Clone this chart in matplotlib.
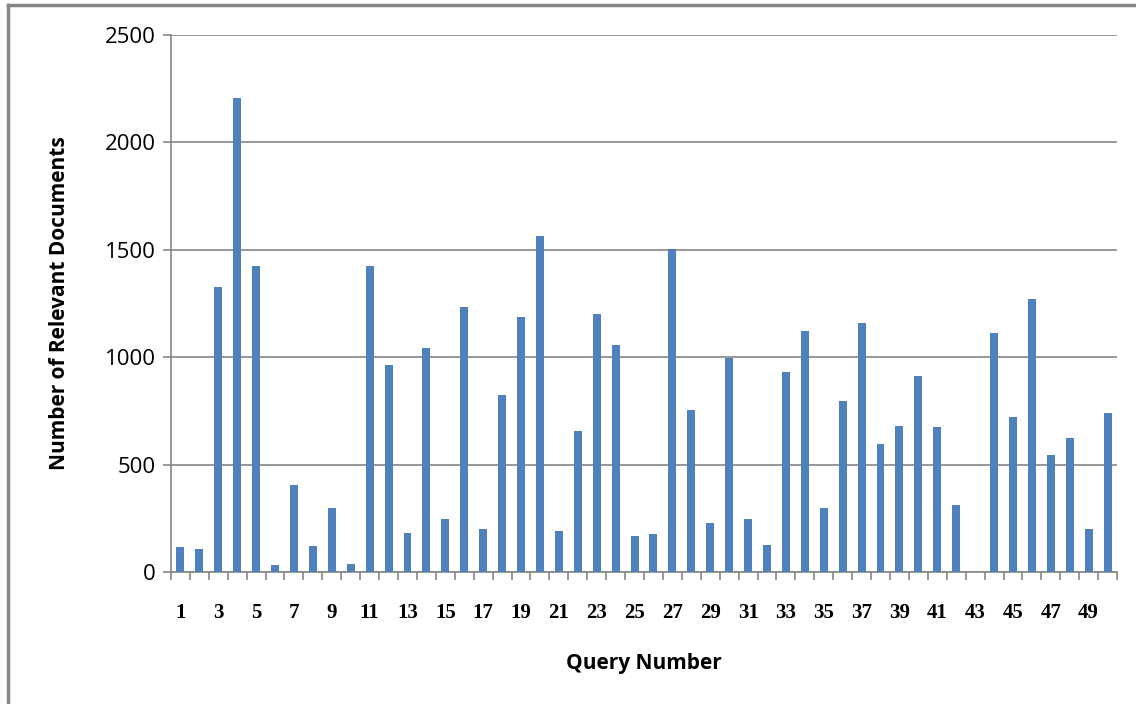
import matplotlib
matplotlib.use("Agg")
import matplotlib.pyplot as plt
from matplotlib.lines import Line2D
import numpy as np

# Relevant documents per query
queries = list(range(1, 51))
relevant_docs = [
    117, 106, 1325, 2208, 1423, 32, 404, 120, 297, 37,
    1423, 962, 181, 1041, 247, 1232, 199, 823, 1185, 1562,
    191, 656, 1203, 1055, 167, 176, 1506, 752, 228, 996,
    247, 125, 930, 1121, 297, 794, 1161, 595, 678, 911,
    674, 311, 0, 1111, 720, 1269, 544, 622, 199, 739,
]
y_ticks = [0, 500, 1000, 1500, 2000, 2500]

bar_color = "#4f81bd"
axis_gray = "#868686"

fig = plt.figure(figsize=(11.36, 7.04), dpi=100)
ax = fig.add_axes([0.1505, 0.1875, 0.8328, 0.7628])

ax.bar(queries, relevant_docs, width=0.42, color=bar_color, zorder=3)

ax.set_xlim(0.5, 50.5)
ax.set_ylim(0, 2500)

# y axis: gridlines at every 500
ax.set_yticks(y_ticks)
ax.yaxis.grid(True, color=axis_gray, linewidth=1.2, zorder=0)
ax.tick_params(axis="y", direction="out", length=6, color=axis_gray,
               width=1.2, pad=5, labelsize=16)
for lab in ax.get_yticklabels():
    lab.set_family("Open Sans")

# x axis: ticks between categories, labels on odd queries
ax.set_xticks(np.arange(0.5, 51, 1.0))
ax.set_xticklabels([])
ax.tick_params(axis="x", which="major", direction="out", length=6,
               color=axis_gray, width=1.2)
ax.set_xticks(queries[::2], minor=True)
ax.set_xticklabels([str(q) for q in queries[::2]], minor=True,
                   family="Liberation Serif", fontweight="bold", fontsize=15)
ax.tick_params(axis="x", which="minor", length=0, pad=22)

for side in ["top", "right"]:
    ax.spines[side].set_visible(False)
for side in ["left", "bottom"]:
    ax.spines[side].set_color(axis_gray)
    ax.spines[side].set_linewidth(1.2)

ax.set_ylabel("Number of Relevant Documents", family="Open Sans",
              fontweight="bold", fontsize=15, labelpad=25)
ax.set_xlabel("Query Number", family="Open Sans", fontweight="bold",
              fontsize=15, labelpad=22)

# partial outer chart frame (top and left edges)
fig.add_artist(Line2D([0.007, 1.0], [0.9922, 0.9922], color=axis_gray,
                      linewidth=2.5, transform=fig.transFigure))
fig.add_artist(Line2D([0.007, 0.007], [0.0, 0.9922], color=axis_gray,
                      linewidth=2.5, transform=fig.transFigure))

fig.savefig("out.png", dpi=100)
